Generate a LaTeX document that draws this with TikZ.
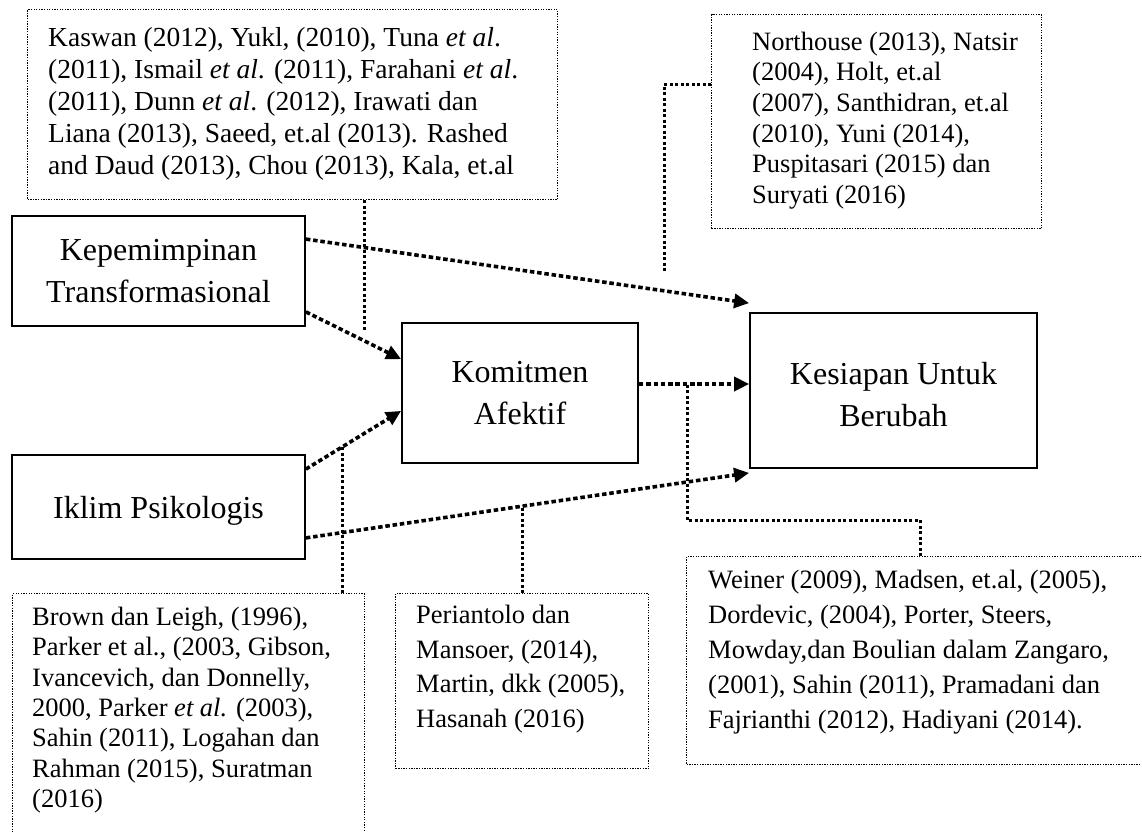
\documentclass[tikz,border=0pt]{standalone}
\usepackage{fontspec}
\setmainfont{Liberation Serif}
\usetikzlibrary{arrows.meta,calc}
\begin{document}
\begin{tikzpicture}[x=1pt,y=-1pt,
  mainbox/.style={draw,line width=1.8pt,rectangle,inner sep=0pt,align=center,font=\fontsize{32}{42}\selectfont},
  citebox/.style={draw,line width=1.3pt,dash pattern=on 1.3pt off 1.3pt,rectangle,inner sep=0pt,anchor=north west},
  citetext/.style={anchor=north west,inner sep=0pt,align=left,font=\fontsize{26.5}{30.3}\selectfont},
  flow/.style={line width=3.6pt,dash pattern=on 4.5pt off 2.8pt,-{Triangle[length=15pt,width=14pt]}},
  link/.style={line width=3pt,dash pattern=on 3pt off 2.5pt},
]
\useasboundingbox (0,0) rectangle (1142,831);

% main boxes
\node[mainbox,minimum width=293pt,minimum height=110pt] (kep) at (158.5,271) {Kepemimpinan\\Transformasional};
\node[mainbox,minimum width=293pt,minimum height=104pt,text depth=0pt] (ikl) at (158.5,507) {Iklim Psikologis};
\node[mainbox,minimum width=236pt,minimum height=140pt] (kom) at (520,393) {Komitmen\\Afektif};
\node[mainbox,minimum width=287pt,minimum height=155pt] (kes) at (893.5,390.5) {\rule{0pt}{31pt}Kesiapan Untuk\\Berubah};

% citation boxes
\node[citebox,minimum width=530pt,minimum height=190pt] (tl) at (27,9) {};
\node[citetext,font=\fontsize{27.5}{32}\selectfont] (tlt) at (48,27) {Kaswan (2012), Yukl, (2010), Tuna \textit{et al}.\\(2011), Ismail \textit{et al}. (2011), Farahani \textit{et al}.\\(2011), Dunn \textit{et al}. (2012), Irawati dan\\Liana (2013), Saeed, et.al (2013). Rashed\\and Daud (2013), Chou (2013), Kala, et.al};

\node[citebox,minimum width=330pt,minimum height=214pt] (tr) at (711,14) {};
\node[citetext,font=\fontsize{26.5}{30.6}\selectfont] (trt) at (752,31.7) {Northouse (2013), Natsir\\(2004), Holt, et.al\\(2007), Santhidran, et.al\\(2010), Yuni (2014),\\Puspitasari (2015) dan\\Suryati (2016)};

\node[citebox,minimum width=352pt,minimum height=270pt] (br) at (12,593) {};
\node[citetext] (brt) at (32,607) {Brown dan Leigh, (1996),\\Parker et al., (2003, Gibson,\\Ivancevich, dan Donnelly,\\2000, Parker \textit{et al.} (2003),\\Sahin (2011), Logahan dan\\Rahman (2015), Suratman\\(2016)};

\node[citebox,minimum width=253pt,minimum height=175pt] (pm) at (395,593) {};
\node[citetext,font=\fontsize{26.5}{34.5}\selectfont] (pmt) at (416,605) {Periantolo dan\\Mansoer, (2014),\\Martin, dkk (2005),\\Hasanah (2016)};

\node[citebox,minimum width=490pt,minimum height=208pt] (wn) at (686,556) {};
\node[citetext,font=\fontsize{26.5}{35}\selectfont] (wnt) at (708,570) {Weiner (2009), Madsen, et.al, (2005),\\Dordevic, (2004), Porter, Steers,\\Mowday,dan Boulian dalam Zangaro,\\(2001), Sahin (2011), Pramadani dan\\Fajrianthi (2012), Hadiyani (2014).};

% flow arrows
\draw[flow] ($(kep.north east)+(0,24)$) -- ($(kes.north west)+(0,-9)$);
\draw[flow] ($(kep.south east)+(0,-15)$) -- ($(kom.north west)+(0,37)$);
\draw[flow] ($(ikl.north east)+(0,15)$) -- ($(kom.south west)+(0,-53)$);
\draw[flow] ($(kom.east)+(0,-9)$) -- ($(kes.west)+(0,-6.5)$);
\draw[flow] ($(ikl.south east)+(0,-22)$) -- ($(kes.south west)+(0,4)$);

% connectors to citation boxes
\coordinate (tlend) at (364,330);
\draw[link] (tl.south west -| tlend) -- (tlend);
\coordinate (trbend) at (664,84);
\coordinate (trend) at (664,273);
\draw[link] (tr.west |- trbend) -- (trbend) -- (trend);
\coordinate (brend) at (342,447);
\draw[link] (br.north west -| brend) -- (brend);
\coordinate (pmend) at (522,505);
\draw[link] (pm.north west -| pmend) -- (pmend);
\coordinate (wnc1) at (920,520);
\coordinate (wnc2) at (687,520);
\coordinate (wnend) at (687,384);
\draw[link] (wn.north west -| wnc1) -- (wnc1) -- (wnc2) -- (wnend);
\end{tikzpicture}
\end{document}
